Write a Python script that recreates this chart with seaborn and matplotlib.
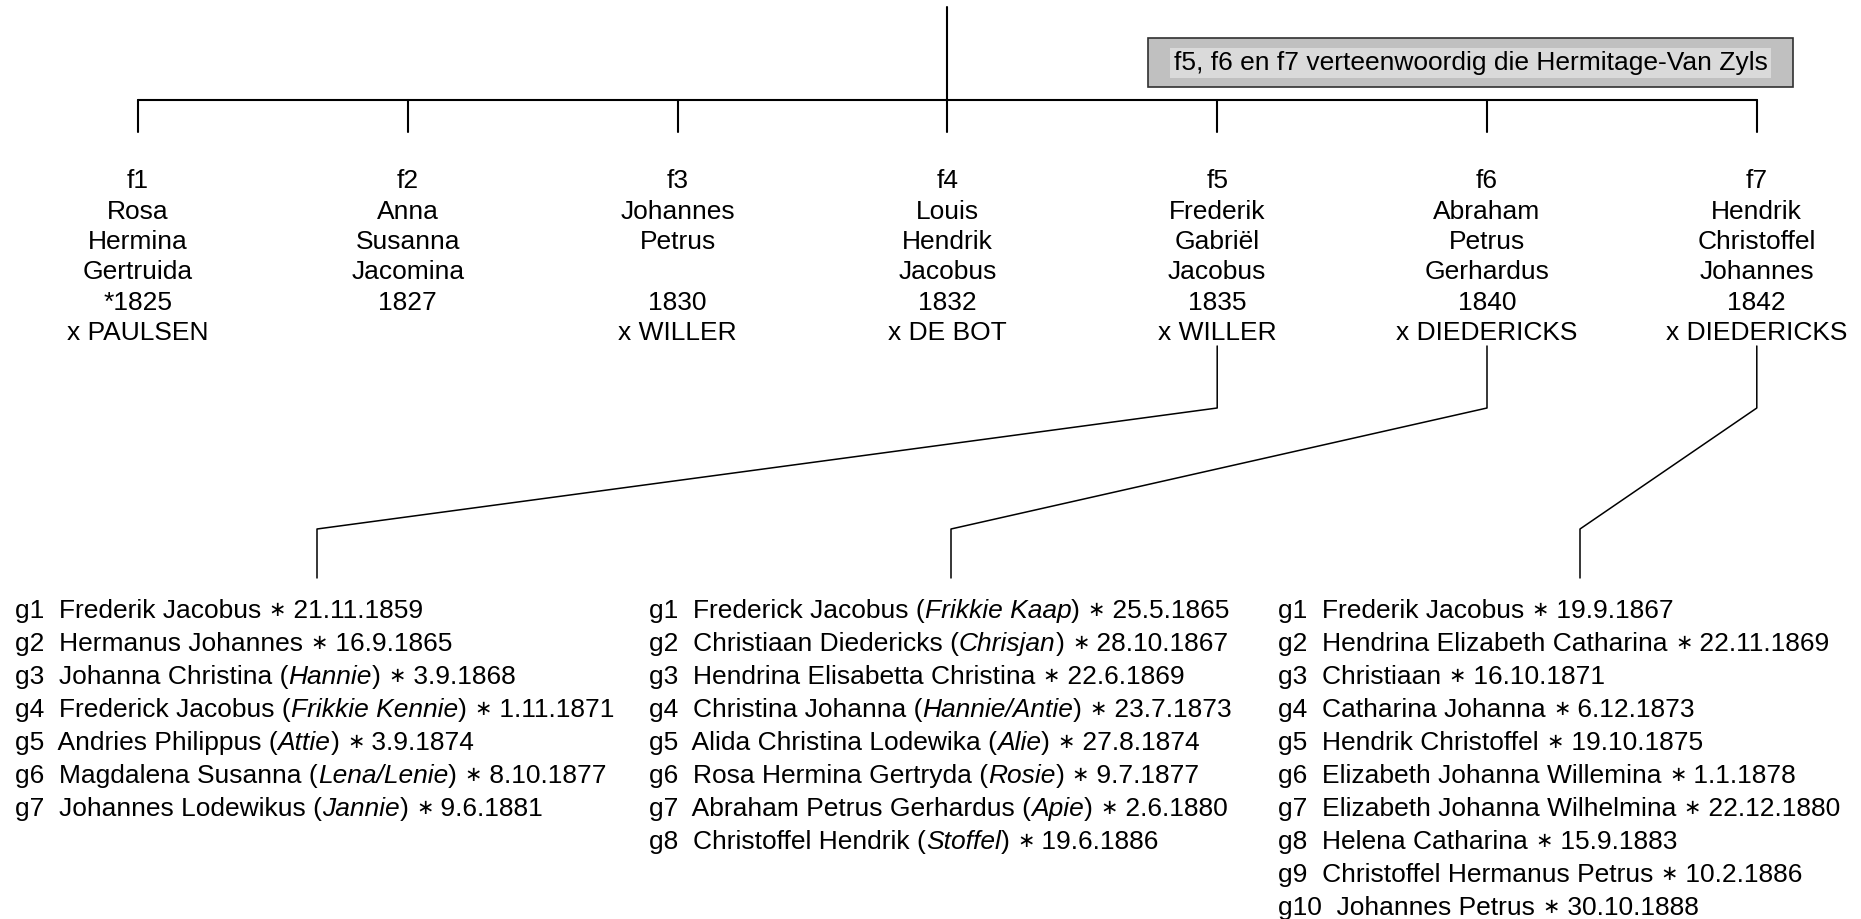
import matplotlib
matplotlib.use("Agg")
import matplotlib.pyplot as plt
import seaborn as sns
import pandas as pd
from matplotlib.patches import Rectangle

# parents (generation f)
parent_ids = ['f1', 'f2', 'f3', 'f4', 'f5', 'f6', 'f7']
parent_first = ['Rosa', 'Anna', 'Johannes', 'Louis', 'Frederik', 'Abraham', 'Hendrik']
parent_second = ['Hermina', 'Susanna', 'Petrus', 'Hendrik', 'Gabriël', 'Petrus', 'Christoffel']
parent_third = ['Gertruida', 'Jacomina', '', 'Jacobus', 'Jacobus', 'Gerhardus', 'Johannes']
parent_born = ['*1825', '1827', '1830', '1832', '1835', '1840', '1842']
parent_spouse = ['x PAULSEN', '', 'x WILLER', 'x DE BOT', 'x WILLER', 'x DIEDERICKS', 'x DIEDERICKS']

note = 'f5, f6 en f7 verteenwoordig die Hermitage-Van Zyls'

# children (generation g): name, nickname, birth date
f5_names = ['Frederik Jacobus', 'Hermanus Johannes', 'Johanna Christina', 'Frederick Jacobus',
            'Andries Philippus', 'Magdalena Susanna', 'Johannes Lodewikus']
f5_nicks = ['', '', 'Hannie', 'Frikkie Kennie', 'Attie', 'Lena/Lenie', 'Jannie']
f5_dates = ['21.11.1859', '16.9.1865', '3.9.1868', '1.11.1871', '3.9.1874', '8.10.1877', '9.6.1881']

f6_names = ['Frederick Jacobus', 'Christiaan Diedericks', 'Hendrina Elisabetta Christina',
            'Christina Johanna', 'Alida Christina Lodewika', 'Rosa Hermina Gertryda',
            'Abraham Petrus Gerhardus', 'Christoffel Hendrik']
f6_nicks = ['Frikkie Kaap', 'Chrisjan', '', 'Hannie/Antie', 'Alie', 'Rosie', 'Apie', 'Stoffel']
f6_dates = ['25.5.1865', '28.10.1867', '22.6.1869', '23.7.1873', '27.8.1874', '9.7.1877',
            '2.6.1880', '19.6.1886']

f7_names = ['Frederik Jacobus', 'Hendrina Elizabeth Catharina', 'Christiaan', 'Catharina Johanna',
            'Hendrik Christoffel', 'Elizabeth Johanna Willemina', 'Elizabeth Johanna Wilhelmina',
            'Helena Catharina', 'Christoffel Hermanus Petrus', 'Johannes Petrus']
f7_nicks = ['', '', '', '', '', '', '', '', '', '']
f7_dates = ['19.9.1867', '22.11.1869', '16.10.1871', '6.12.1873', '19.10.1875', '1.1.1878',
            '22.12.1880', '15.9.1883', '10.2.1886', '30.10.1888']

families = [(4, f5_names, f5_nicks, f5_dates),
            (5, f6_names, f6_nicks, f6_dates),
            (6, f7_names, f7_nicks, f7_dates)]

# layout (pixels)
W, H = 1861, 919
root_x, bar_y, drop_y = 947, 100, 132
px0, pdx = 138, 269.8
line0, line_dy = 181.5, 30.3
conn_top, conn_knee, conn_low, conn_bot = 346, 408, 529, 578
list_x = [15, 649, 1278]
list_y0, list_dy = 611, 33.0
FS = 19
star_lift = 3

sns.set_style('white')
plt.rcParams['font.family'] = ['Liberation Sans', 'DejaVu Sans']
plt.rcParams['text.color'] = 'black'

fig = plt.figure(figsize=(W / 100, H / 100), dpi=100)
ax = fig.add_axes([0, 0, 1, 1])

parent_x = [px0 + i * pdx for i in range(len(parent_ids))]

# top tree lines
rows = [('root', root_x, 7), ('root', root_x, bar_y),
        ('bar', parent_x[0], bar_y), ('bar', parent_x[-1], bar_y)]
for i, x in enumerate(parent_x):
    rows += [(f'd{i}', x, bar_y), (f'd{i}', x, drop_y)]
top = pd.DataFrame(rows, columns=['seg', 'x', 'y'])
sns.lineplot(data=top, x='x', y='y', units='seg', estimator=None, sort=False,
             color='black', lw=1.5, ax=ax)

# connectors to children lists
rows = []
for k, (pi, names, nicks, dates) in enumerate(families):
    bx = list_x[k] + 302
    rows += [(k, parent_x[pi], conn_top), (k, parent_x[pi], conn_knee),
             (k, bx, conn_low), (k, bx, conn_bot)]
conn = pd.DataFrame(rows, columns=['fam', 'x', 'y'])
sns.lineplot(data=conn, x='x', y='y', units='fam', estimator=None, sort=False,
             color='black', lw=1.1, ax=ax)
ax.set_xlim(0, W)
ax.set_ylim(H, 0)
ax.axis('off')

# parent labels
for i, x in enumerate(parent_x):
    lines = [parent_ids[i], parent_first[i], parent_second[i], parent_third[i],
             parent_born[i], parent_spouse[i]]
    for j, s in enumerate(lines):
        if s:
            ax.text(x, line0 + j * line_dy, s, ha='center', va='center', fontsize=FS)

# note box
ax.add_patch(Rectangle((1148, 38), 645, 49, fc='#c0c0c0', ec='#303030', lw=1.2, zorder=3))
ax.text(1470.5, 63, note, ha='center', va='center', fontsize=FS, zorder=4,
        bbox=dict(boxstyle='square,pad=0.12', fc='#dadada', ec='none'))

# children lists
for k, (pi, names, nicks, dates) in enumerate(families):
    for j, (nm, nk, dt) in enumerate(zip(names, nicks, dates)):
        y = list_y0 + j * list_dy
        lab = f'g{j + 1}  '
        if nk:
            pieces = [(lab + nm + ' (', 'normal'), (nk, 'italic'), (') ', 'normal')]
        else:
            pieces = [(lab + nm + ' ', 'normal')]
        prev = ax.text(list_x[k], y, pieces[0][0], ha='left', va='center', fontsize=FS)
        for s, st in pieces[1:]:
            prev = ax.annotate(s, xy=(1, 0), xycoords=prev, ha='left', va='bottom',
                               fontsize=FS, style=st)
        star = ax.annotate('\u2217', xy=(1, 0), xycoords=prev, xytext=(0, star_lift),
                           textcoords='offset pixels', ha='left', va='bottom', fontsize=15)
        ax.annotate(' ' + dt, xy=(1, 0), xycoords=star, xytext=(0, -star_lift),
                    textcoords='offset pixels', ha='left', va='bottom', fontsize=FS)

fig.savefig('out.png', dpi=100)
